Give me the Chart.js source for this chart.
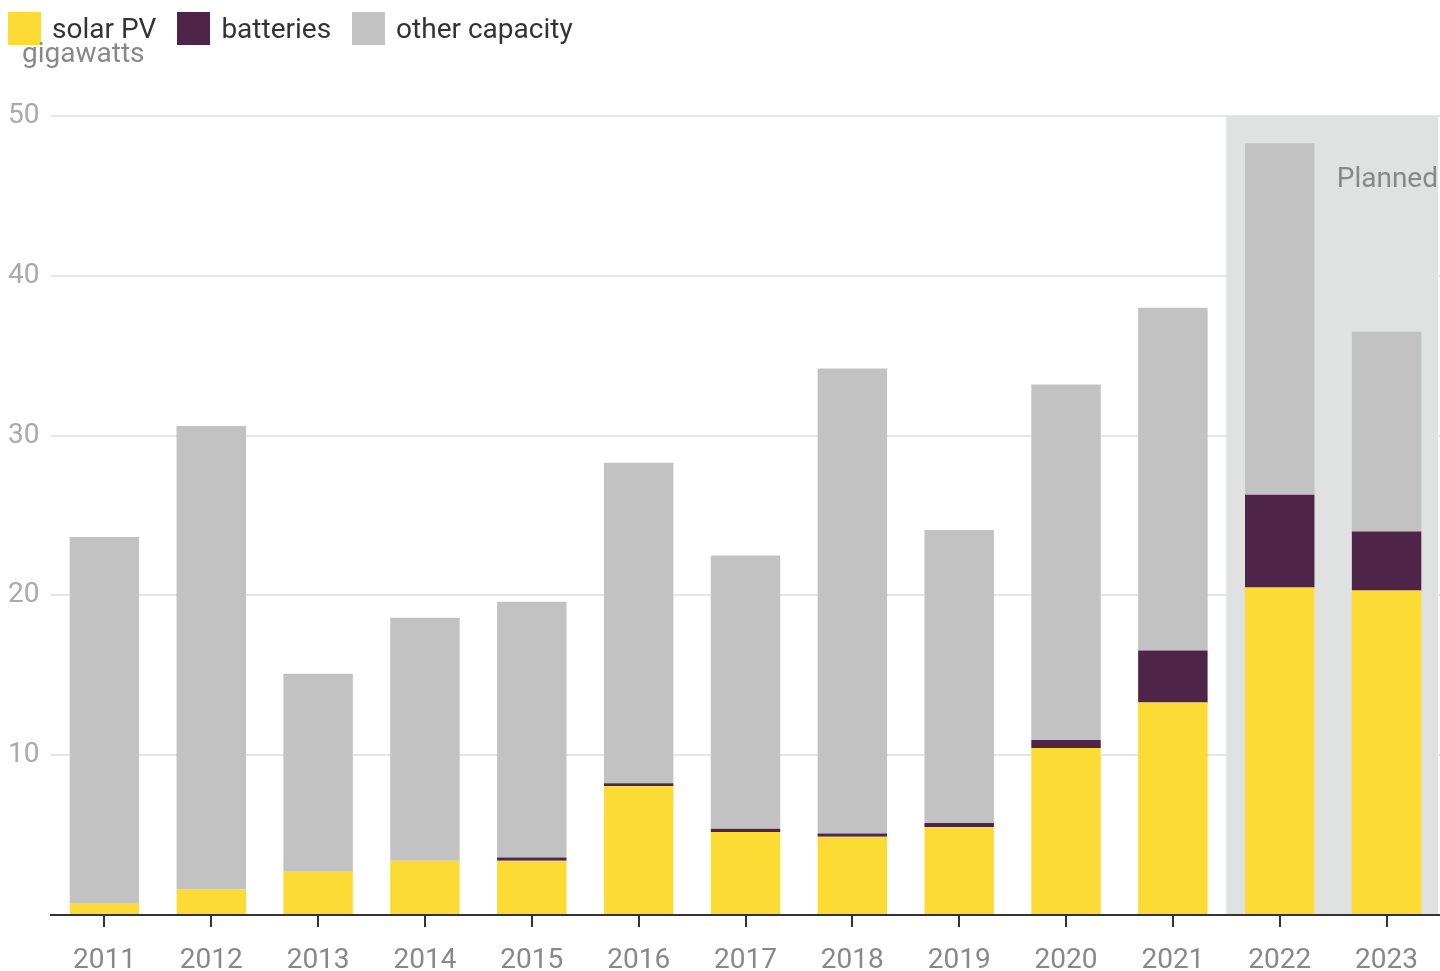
<!DOCTYPE html>
<html>
<head>
<meta charset="utf-8">
<script src="https://cdn.jsdelivr.net/npm/chart.js@4"></script>
<style>
  body { margin: 0; background: #fff; font-family: Roboto, sans-serif; }
  #wrap { position: relative; width: 1440px; height: 971px; }
  .legend { position: absolute; top: 12px; left: 8px; display: flex; align-items: center; font-size: 28px; color: #333; }
  .legend span.box { display: inline-block; width: 33px; height: 33px; margin-right: 11px; }
  .legend .item { display: flex; align-items: center; margin-right: 21px; }
  #unit { position: absolute; left: 22px; top: 36px; font-size: 28px; color: #888; }
</style>
</head>
<body>
<div id="wrap">
  <canvas id="chart" width="1440" height="971"></canvas>
  <div class="legend">
    <div class="item"><span class="box" style="background:#fcdc34"></span>solar PV</div>
    <div class="item"><span class="box" style="background:#4e2548"></span>batteries</div>
    <div class="item"><span class="box" style="background:#c2c2c2"></span>other capacity</div>
  </div>
  <div id="unit">gigawatts</div>
</div>
<script>
// years on the x axis
const years = ["2011", "2012", "2013", "2014", "2015", "2016", "2017", "2018", "2019", "2020", "2021", "2022", "2023"];
// capacity additions, gigawatts
const solarPV = [0.75, 1.6, 2.75, 3.4, 3.4, 8.05, 5.2, 4.9, 5.5, 10.45, 13.3, 20.5, 20.3];
const batteries = [0, 0, 0, 0, 0.2, 0.2, 0.2, 0.2, 0.25, 0.5, 3.25, 5.8, 3.7];
const otherCapacity = [22.9, 29.0, 12.35, 15.2, 16.0, 20.05, 17.1, 29.1, 18.35, 22.25, 21.45, 22.0, 12.5];
const plannedYears = ["2022", "2023"];
const yTicks = [10, 20, 30, 40, 50];

// grey band behind planned years + label
const plannedBand = {
  id: "plannedBand",
  beforeDatasetsDraw(chart) {
    const { ctx, chartArea, scales } = chart;
    const x = scales.x;
    const first = years.indexOf(plannedYears[0]);
    const step = x.getPixelForValue(1) - x.getPixelForValue(0);
    const left = x.getPixelForValue(first) - step / 2;
    const right = chartArea.right - 2;
    ctx.save();
    ctx.fillStyle = "#e0e1e1";
    ctx.fillRect(left, chartArea.top, right - left, chartArea.bottom - chartArea.top - 1);
    ctx.fillStyle = "#888";
    ctx.font = "28px Roboto";
    ctx.textAlign = "right";
    ctx.textBaseline = "middle";
    ctx.fillText("Planned", right, scales.y.getPixelForValue(46.0));
    ctx.restore();
  }
};

const ctx = document.getElementById("chart").getContext("2d");
const chart = new Chart(ctx, {
  type: "bar",
  data: {
    labels: years,
    datasets: [
      { label: "solar PV", data: solarPV, backgroundColor: "#fcdc34" },
      { label: "batteries", data: batteries, backgroundColor: "#4e2548" },
      { label: "other capacity", data: otherCapacity, backgroundColor: "#c2c2c2" }
    ]
  },
  options: {
    responsive: false,
    animation: false,
    layout: { padding: { top: 116, left: 8, right: 0, bottom: 0 } },
    datasets: { bar: { barPercentage: 0.65, categoryPercentage: 1 } },
    plugins: { legend: { display: false }, tooltip: { enabled: false } },
    scales: {
      x: {
        stacked: true,
        afterFit(scale) { scale.height = 56; scale.paddingLeft = 0; scale.paddingRight = 0; },
        border: { display: true, color: "#333", width: 2 },
        grid: { display: true, drawOnChartArea: false, offset: false, color: "#333", lineWidth: 2, tickLength: 12 },
        ticks: { color: "#888", font: { family: "Roboto", size: 28 }, maxRotation: 0, padding: 17 }
      },
      y: {
        stacked: true,
        min: 0,
        max: 50,
        afterFit(scale) { scale.width = 43; },
        afterBuildTicks(scale) { scale.ticks = [0].concat(yTicks).map(v => ({ value: v })); },
        border: { display: false },
        grid: { color: "#e6e6e6", lineWidth: 2, drawTicks: false },
        ticks: {
          color: "#aaa",
          font: { family: "Roboto", size: 28 },
          crossAlign: "far",
          padding: 0,
          callback: v => (v === 0 ? "" : v)
        }
      }
    }
  },
  plugins: [plannedBand]
});
</script>
</body>
</html>
